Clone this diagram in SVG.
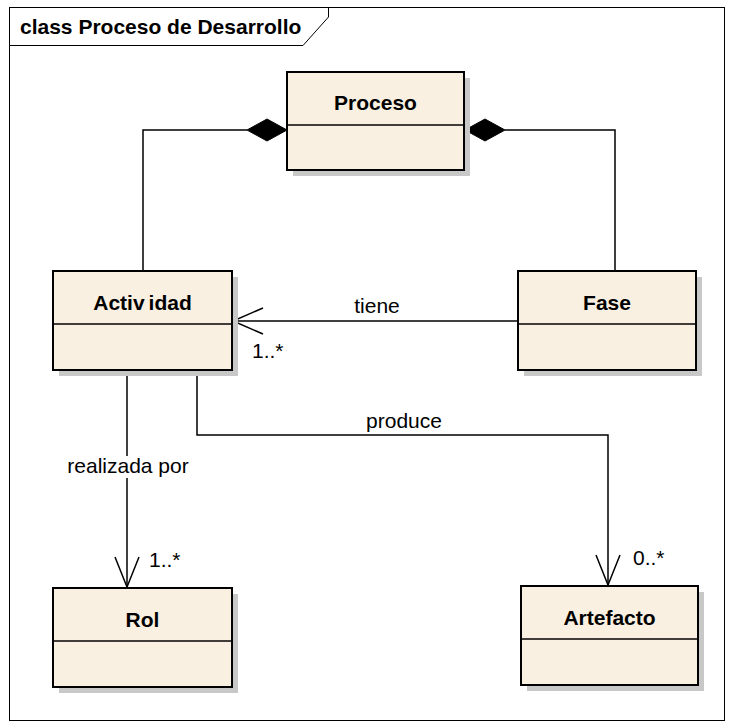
<svg xmlns="http://www.w3.org/2000/svg" width="732" height="728" viewBox="0 0 732 728">
  <style>
    .frame { fill: none; stroke: #000; stroke-width: 1; }
    .shadow { fill: #c8c8c8; stroke: none; }
    .box { fill: #f9f0e1; stroke: #000; stroke-width: 2; }
    .div { stroke: #000; stroke-width: 1.5; }
    .name { font-family: "Liberation Sans", Arial, sans-serif; font-weight: bold; font-size: 21px; text-anchor: middle; fill: #000; }
    .lbl { font-family: "Liberation Sans", Arial, sans-serif; font-size: 21px; fill: #000; }
    .mid { text-anchor: middle; }
    .edge { fill: none; stroke: #000; stroke-width: 1.5; }
    .diamond { fill: #000; stroke: #000; stroke-width: 1; }
  </style>
  <rect width="732" height="728" fill="#ffffff"/>

  <!-- diagram frame with name tab -->
  <g id="frame">
    <rect class="frame" x="9.5" y="7.5" width="715" height="713"/>
    <path class="frame" d="M9.5 45.5 H303 L328.5 17 V7.5"/>
    <text class="lbl" x="20" y="34" font-weight="bold">class Proceso de Desarrollo</text>
  </g>

  <!-- connectors -->
  <g id="connectors">
    <!-- Proceso composes Actividad -->
    <path class="edge" d="M247 130 H143 V271"/>
    <polygon class="diamond" points="287,130 267,119 247,130 267,141"/>
    <!-- Proceso composes Fase -->
    <path class="edge" d="M505 130 H615 V271"/>
    <polygon class="diamond" points="465,130 485,119 505,130 485,141"/>
    <!-- tiene -->
    <path class="edge" d="M518 321 H233"/>
    <path class="edge" d="M263 308 L233 321 L263 334"/>
    <text class="lbl mid" x="377" y="313">tiene</text>
    <text class="lbl" x="252" y="358">1..*</text>
    <!-- realizada por -->
    <path class="edge" d="M127 370 V587"/>
    <path class="edge" d="M115 557 L127 587 L139 557"/>
    <rect x="65" y="456" width="126" height="22" fill="#ffffff"/>
    <text class="lbl mid" x="128" y="473">realizada por</text>
    <text class="lbl" x="149" y="567">1..*</text>
    <!-- produce -->
    <path class="edge" d="M197 370 V435 H608 V585"/>
    <path class="edge" d="M596 555 L608 585 L620 555"/>
    <text class="lbl mid" x="404" y="428">produce</text>
    <text class="lbl" x="633" y="565">0..*</text>
  </g>

  <g id="proceso">
    <rect class="shadow" x="293" y="78" width="177" height="98"/>
    <rect class="box" x="287" y="72" width="177" height="98"/>
    <line class="div" x1="287" y1="125" x2="464" y2="125"/>
    <text class="name" x="375.5" y="110">Proceso</text>
  </g>

  <g id="actividad">
    <rect class="shadow" x="59" y="277" width="179" height="99"/>
    <rect class="box" x="53" y="271" width="179" height="99"/>
    <line class="div" x1="53" y1="324" x2="232" y2="324"/>
    <text class="name" x="142.5" y="310">Activ<tspan dx="4">idad</tspan></text>
  </g>

  <g id="fase">
    <rect class="shadow" x="524" y="277" width="178" height="99"/>
    <rect class="box" x="518" y="271" width="178" height="99"/>
    <line class="div" x1="518" y1="324" x2="696" y2="324"/>
    <text class="name" x="607" y="310">Fase</text>
  </g>

  <g id="rol">
    <rect class="shadow" x="59" y="594" width="179" height="99"/>
    <rect class="box" x="53" y="588" width="179" height="99"/>
    <line class="div" x1="53" y1="641" x2="232" y2="641"/>
    <text class="name" x="142.5" y="627">Rol</text>
  </g>

  <g id="artefacto">
    <rect class="shadow" x="527" y="592" width="177" height="99"/>
    <rect class="box" x="521" y="586" width="177" height="99"/>
    <line class="div" x1="521" y1="639" x2="698" y2="639"/>
    <text class="name" x="609.5" y="625">Artefacto</text>
  </g>
</svg>
